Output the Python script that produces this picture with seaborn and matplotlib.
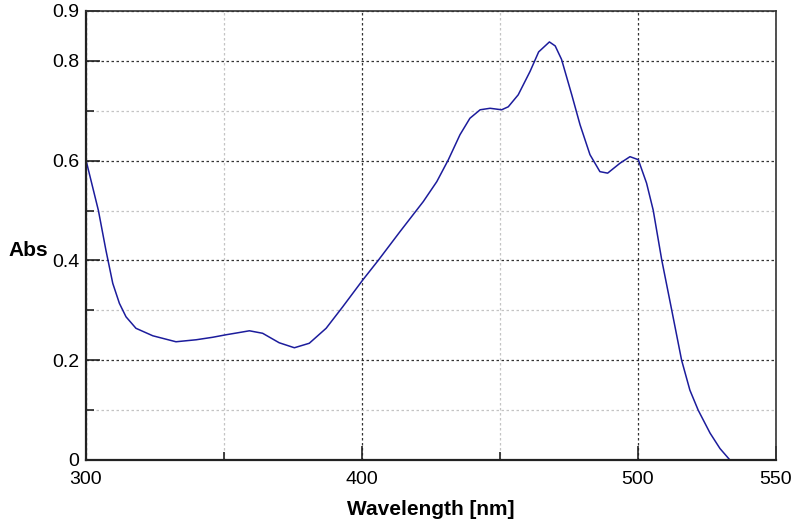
import matplotlib
matplotlib.use("Agg")
import matplotlib.pyplot as plt
import seaborn as sns
import pandas as pd
from matplotlib.ticker import FixedLocator

# Spectrum
wavelength = [300, 304.5, 307.2, 309.7, 312.1, 314.5, 318.1, 324.2, 332.6, 339.9, 345.9,
              350.7, 355, 359.2, 364, 370, 375.5, 380.9, 387, 393, 400.3, 406, 413.8,
              422.2, 427.1, 431.3, 435.5, 439.1, 442.8, 446.4, 450.6, 453, 456.6, 460.9,
              464, 467.9, 470, 472.3, 476, 479, 482.6, 486.2, 489, 493.5, 497.1, 500.1,
              503.1, 505.5, 508.6, 512.2, 515.8, 518.8, 521.8, 526.1, 529.7, 533.3]
absorbance = [0.601, 0.50, 0.421, 0.354, 0.314, 0.287, 0.264, 0.249, 0.237, 0.241, 0.246,
              0.251, 0.255, 0.259, 0.254, 0.235, 0.225, 0.234, 0.264, 0.307, 0.361, 0.401, 0.458,
              0.518, 0.558, 0.602, 0.652, 0.685, 0.702, 0.705, 0.702, 0.708, 0.732, 0.779,
              0.818, 0.838, 0.830, 0.803, 0.732, 0.672, 0.612, 0.578, 0.575, 0.595, 0.608, 0.602,
              0.555, 0.501, 0.401, 0.301, 0.20, 0.140, 0.10, 0.054, 0.023, 0.0]

x_major = [300, 400, 500, 550]
x_minor = [350, 450]
y_major = [0, 0.2, 0.4, 0.6, 0.8, 0.9]
y_minor = [0.1, 0.3, 0.5, 0.7]
y_labels = ["0", "0.2", "0.4", "0.6", "0.8", "0.9"]

df = pd.DataFrame({"Wavelength": wavelength, "Abs": absorbance})

sns.set_style("white")
plt.rcParams["font.family"] = ["Liberation Sans", "DejaVu Sans"]
plt.rcParams["text.color"] = "black"
plt.rcParams["xtick.color"] = "black"
plt.rcParams["ytick.color"] = "black"
plt.rcParams["axes.labelcolor"] = "black"

fig = plt.figure(figsize=(7.93, 5.22), dpi=100)
ax = fig.add_axes([86 / 793, 62 / 522, 690 / 793, 449 / 522])

sns.lineplot(data=df, x="Wavelength", y="Abs", ax=ax, color="#1c1c9c", linewidth=1.1, sort=False)

ax.set_xlim(300, 550)
ax.set_ylim(0, 0.9)
ax.xaxis.set_major_locator(FixedLocator(x_major))
ax.xaxis.set_minor_locator(FixedLocator(x_minor))
ax.yaxis.set_major_locator(FixedLocator(y_major))
ax.yaxis.set_minor_locator(FixedLocator(y_minor))
ax.set_xticklabels([str(v) for v in x_major])
ax.set_yticklabels(y_labels)

ax.grid(which="major", color="#333333", linestyle=(0, (2, 2)), linewidth=0.9)
ax.grid(which="minor", color="#c4c4c4", linestyle=(0, (2, 2)), linewidth=0.9)
ax.set_axisbelow(True)

ax.tick_params(which="major", direction="in", length=10, width=1.2, color="#222222",
               labelsize=14, labelcolor="black", top=False, right=False, left=True, bottom=True)
ax.tick_params(which="minor", direction="in", length=6, width=1.2, color="#222222",
               top=False, right=False, left=True, bottom=True)
ax.tick_params(axis="x", which="major", pad=8)
ax.tick_params(axis="y", which="major", pad=5)

for side in ["left", "bottom"]:
    ax.spines[side].set_color("#222222")
    ax.spines[side].set_linewidth(1.6)
for side in ["top", "right"]:
    ax.spines[side].set_color("#333333")
    ax.spines[side].set_linewidth(1.2)

ax.set_xlabel("Wavelength [nm]", fontsize=15, fontweight="bold", va="top")
ax.set_ylabel("Abs", fontsize=15, fontweight="bold", rotation=0, ha="right", va="center")
ax.xaxis.set_label_coords(0.5, -0.09)
ax.yaxis.set_label_coords(-0.055, 0.466)

fig.savefig("out.png", dpi=100)
